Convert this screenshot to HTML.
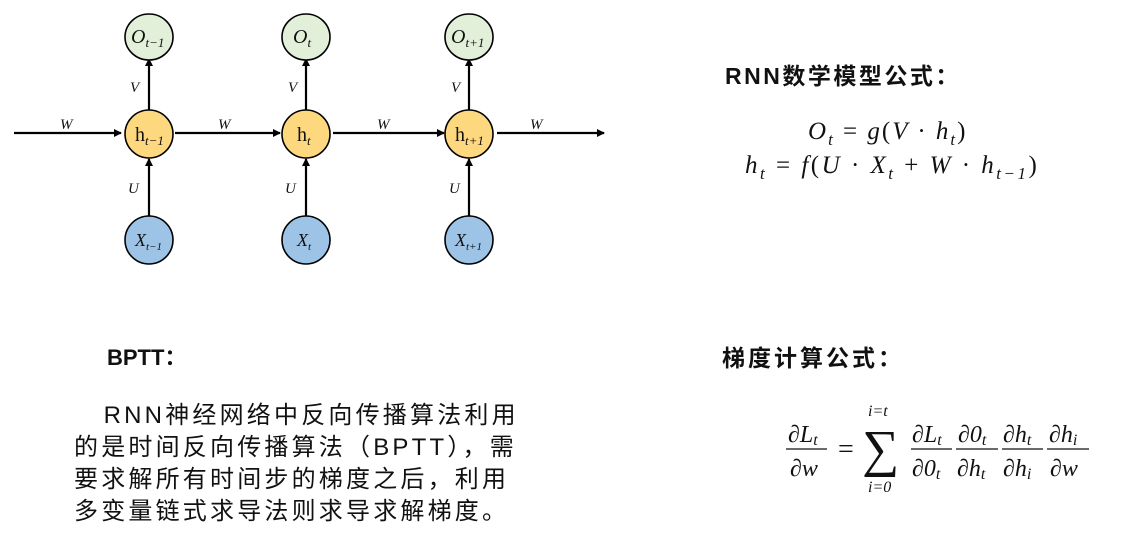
<!DOCTYPE html>
<html><head><meta charset="utf-8"><style>
body{margin:0;width:1135px;height:547px;background:#fff;position:relative;overflow:hidden;font-family:"Liberation Sans","Noto Sans CJK SC",sans-serif;}
.t{position:absolute;white-space:nowrap;color:#111}
.m{font-family:"Liberation Serif","DejaVu Serif",serif;font-style:italic}
</style></head><body>
<svg width="620" height="280" style="position:absolute;left:0;top:0" font-family="Liberation Serif,serif" font-style="italic">
<defs><marker id="a" markerWidth="8" markerHeight="8" refX="7" refY="4" orient="auto" markerUnits="userSpaceOnUse"><path d="M0,0 L8,4 L0,8z" fill="#000"/></marker></defs>
<g stroke="#000" stroke-width="2.2" fill="none">
<line x1="14" y1="133" x2="121" y2="133" marker-end="url(#a)"/>
<line x1="175" y1="133" x2="280" y2="133" marker-end="url(#a)"/>
<line x1="333" y1="133" x2="444" y2="133" marker-end="url(#a)"/>
<line x1="497" y1="133" x2="604" y2="133" marker-end="url(#a)"/>
<line x1="149" y1="110" x2="149" y2="59" marker-end="url(#a)"/>
<line x1="306" y1="110" x2="306" y2="59" marker-end="url(#a)"/>
<line x1="469" y1="110" x2="469" y2="59" marker-end="url(#a)"/>
<line x1="149" y1="216" x2="149" y2="159" marker-end="url(#a)"/>
<line x1="306" y1="216" x2="306" y2="159" marker-end="url(#a)"/>
<line x1="469" y1="216" x2="469" y2="159" marker-end="url(#a)"/>
</g>
<g stroke="#000" stroke-width="1.6">
<ellipse cx="149" cy="37" rx="24" ry="23" fill="#e2efd9"/>
<ellipse cx="306" cy="37" rx="24" ry="23" fill="#e2efd9"/>
<ellipse cx="469" cy="37" rx="24" ry="23" fill="#e2efd9"/>
<ellipse cx="149" cy="134" rx="24" ry="24" fill="#fdd87f"/>
<ellipse cx="306" cy="134" rx="24" ry="24" fill="#fdd87f"/>
<ellipse cx="469" cy="134" rx="24" ry="24" fill="#fdd87f"/>
<ellipse cx="149" cy="240" rx="24" ry="24" fill="#9dc3e6"/>
<ellipse cx="306" cy="240" rx="24" ry="24" fill="#9dc3e6"/>
<ellipse cx="469" cy="240" rx="24" ry="24" fill="#9dc3e6"/>
</g>
<g font-size="15" fill="#111">
<text x="60" y="129">W</text><text x="218" y="129">W</text><text x="377" y="129">W</text><text x="530" y="129">W</text>
<text x="130" y="92">V</text><text x="288" y="92">V</text><text x="451" y="92">V</text>
<text x="128" y="193">U</text><text x="285" y="193">U</text><text x="449" y="193">U</text>
<text x="131" y="43" font-size="20">O<tspan font-size="13" dy="4">t−1</tspan></text>
<text x="293" y="43" font-size="20">O<tspan font-size="13" dy="4">t</tspan></text>
<text x="451" y="43" font-size="20">O<tspan font-size="13" dy="4">t+1</tspan></text>
<text x="135" y="141" font-size="20" font-style="normal">h<tspan font-size="13" dy="4" font-style="italic">t−1</tspan></text>
<text x="297" y="141" font-size="20" font-style="normal">h<tspan font-size="13" dy="4" font-style="italic">t</tspan></text>
<text x="455" y="141" font-size="20" font-style="normal">h<tspan font-size="13" dy="4" font-style="italic">t+1</tspan></text>
<text x="135" y="246" font-size="18">X<tspan font-size="11" dy="4">t−1</tspan></text>
<text x="297" y="246" font-size="18">X<tspan font-size="11" dy="4">t</tspan></text>
<text x="455" y="246" font-size="18">X<tspan font-size="11" dy="4">t+1</tspan></text>
</g>
</svg>
<div class="t" style="left:725px;top:57px;font-size:23px;font-weight:bold;letter-spacing:2.5px">RNN数学模型公式：</div>
<div class="t m" style="left:808px;top:118px;font-size:25px;letter-spacing:2px">O<sub style="font-size:17px">t</sub> <span style="font-style:normal">=</span> g<span style="font-style:normal">(</span>V <span style="font-style:normal">·</span> h<sub style="font-size:17px">t</sub><span style="font-style:normal">)</span></div>
<div class="t m" style="left:745px;top:152px;font-size:25px;letter-spacing:2.5px">h<sub style="font-size:17px">t</sub> <span style="font-style:normal">=</span> f<span style="font-style:normal">(</span>U <span style="font-style:normal">·</span> X<sub style="font-size:17px">t</sub> <span style="font-style:normal">+</span> W <span style="font-style:normal">·</span> h<sub style="font-size:17px">t−1</sub><span style="font-style:normal">)</span></div>
<div class="t" style="left:107px;top:340px;font-size:22px;font-weight:bold">BPTT：</div>
<div class="t" style="left:722px;top:339px;font-size:23px;font-weight:bold;letter-spacing:3px">梯度计算公式：</div>
<div class="t" style="left:74px;top:400px;font-size:24px;line-height:32px;letter-spacing:3.2px">&nbsp;&nbsp;&nbsp;RNN神经网络中反向传播算法利用<br>的是时间反向传播算法（BPTT），需<br>要求解所有时间步的梯度之后，利用<br>多变量链式求导法则求导求解梯度。</div>
<svg width="420" height="130" style="position:absolute;left:700px;top:380px" font-family="Liberation Serif,serif" font-style="italic" font-size="24" fill="#111">
<g stroke="#111" stroke-width="1.3">
<line x1="86" y1="69" x2="127" y2="69"/><line x1="211" y1="69" x2="252" y2="69"/><line x1="256" y1="69" x2="298" y2="69"/><line x1="302" y1="69" x2="343" y2="69"/><line x1="347" y1="69" x2="389" y2="69"/>
</g>
<text x="88" y="62">∂L<tspan font-size="16" dy="3">t</tspan></text>
<text x="90" y="96">∂w</text>
<text x="138" y="78" font-style="normal" font-size="28">=</text>
<text x="162" y="86" font-size="52" font-style="normal">∑</text>
<text x="168" y="36" font-size="16">i=t</text>
<text x="168" y="112" font-size="16">i=0</text>
<text x="212" y="62">∂L<tspan font-size="16" dy="3">t</tspan></text>
<text x="212" y="96">∂0<tspan font-size="16" dy="3">t</tspan></text>
<text x="258" y="62">∂0<tspan font-size="16" dy="3">t</tspan></text>
<text x="257" y="96">∂h<tspan font-size="16" dy="3">t</tspan></text>
<text x="303" y="62">∂h<tspan font-size="16" dy="3">t</tspan></text>
<text x="303" y="96">∂h<tspan font-size="16" dy="3">i</tspan></text>
<text x="349" y="62">∂h<tspan font-size="16" dy="3">i</tspan></text>
<text x="350" y="96">∂w</text>
</svg>
</body></html>
